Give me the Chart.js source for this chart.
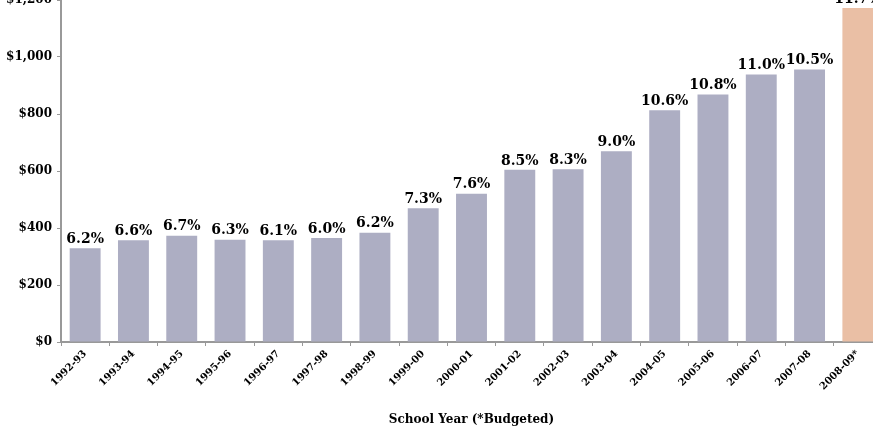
<!DOCTYPE html>
<html><head><meta charset="utf-8">
<script src="https://cdn.jsdelivr.net/npm/chart.js@4"></script>
<style>
html,body{margin:0;padding:0;overflow:hidden;background:#fff;width:873px;height:430px;position:relative}
#wrap{position:absolute;left:0;top:-20px;width:884px;height:450px}
</style></head><body>
<div id="wrap"><canvas id="c" width="884" height="450"></canvas></div>
<script>
const years = ["1992-93","1993-94","1994-95","1995-96","1996-97","1997-98","1998-99","1999-00","2000-01","2001-02","2002-03","2003-04","2004-05","2005-06","2006-07","2007-08","2008-09*"];
const costs = [329,357,373,359,357,365,383,469,520,604,606,669,813,868,939,956,1172];
const pctLabels = ["6.2%","6.6%","6.7%","6.3%","6.1%","6.0%","6.2%","7.3%","7.6%","8.5%","8.3%","9.0%","10.6%","10.8%","11.0%","10.5%","11.7%"];
const yTicks = [0,200,400,600,800,1000,1200];
const axisTitle = "School Year (*Budgeted)";

const barColor = "#ADAEC3";
const budgetColor = "#EABFA5";
const serif = "'DejaVu Serif', 'Liberation Serif', serif";

const labelPlugin = {
  id: 'pctLabels',
  afterDatasetsDraw(chart) {
    const ctx = chart.ctx;
    const meta = chart.getDatasetMeta(0);
    ctx.save();
    ctx.font = "bold 14px " + serif;
    ctx.fillStyle = "#000";
    ctx.textAlign = "center";
    ctx.textBaseline = "bottom";
    meta.data.forEach((bar, i) => {
      ctx.fillText(pctLabels[i], bar.x, bar.y - 2);
    });
    ctx.restore();
  }
};

new Chart(document.getElementById('c'), {
  type: 'bar',
  data: {
    labels: years,
    datasets: [{
      data: costs,
      backgroundColor: costs.map((v, i) => years[i].endsWith('*') ? budgetColor : barColor),
      borderWidth: 0,
      barPercentage: 0.64,
      categoryPercentage: 1.0
    }]
  },
  options: {
    responsive: false,
    animation: false,
    devicePixelRatio: 1,
    layout: { padding: { top: 20, left: 0, right: 2, bottom: 0 } },
    plugins: { legend: { display: false }, tooltip: { enabled: false }, title: { display: false } },
    scales: {
      y: {
        min: 0, max: 1200,
        afterBuildTicks(scale) { scale.ticks = yTicks.map(v => ({ value: v })); },
        afterFit(scale) { scale.width = 61; },
        ticks: {
          callback: v => '$' + v.toLocaleString('en-US'),
          font: { family: serif, size: 12, weight: 'bold' },
          color: '#000',
          padding: 5
        },
        grid: { drawOnChartArea: false, drawTicks: true, tickLength: 4, color: '#999999', lineWidth: 1 },
        border: { color: '#999999', width: 2 }
      },
      x: {
        afterFit(scale) { scale.height = 88; },
        ticks: {
          minRotation: 45, maxRotation: 45,
          font: { family: serif, size: 10, weight: 'bold' },
          color: '#000',
          padding: 2,
          autoSkip: false
        },
        grid: { offset: true, drawOnChartArea: false, drawTicks: true, tickLength: 4, color: '#999999', lineWidth: 1 },
        border: { color: '#999999', width: 2 },
        title: {
          display: true, text: axisTitle,
          font: { family: serif, size: 12, weight: 'bold' },
          color: '#000',
          padding: { top: 0, bottom: 3 }
        }
      }
    }
  },
  plugins: [labelPlugin]
});
</script>
</body></html>
